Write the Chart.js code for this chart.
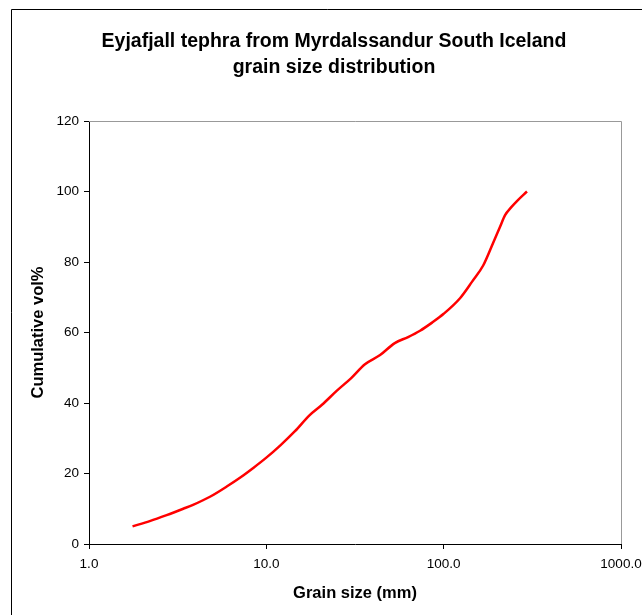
<!DOCTYPE html>
<html>
<head>
<meta charset="utf-8">
<script src="https://cdn.jsdelivr.net/npm/chart.js@4"></script>
<style>
html,body{margin:0;padding:0;background:#fff;}
canvas{display:block;}
</style>
</head>
<body>
<canvas id="c" width="642" height="615"></canvas>
<script>
const grainSize = [1.76, 2.2, 2.74, 3.4, 3.86, 4.81, 5.98, 7.2, 8.4, 10, 12, 14.5, 17.5, 20.6, 25, 30, 36, 43.8, 53, 63, 73.6, 86, 100, 124, 145, 167, 190, 208, 222, 240, 259, 295];
const cumulativeVol = [5, 6.5, 8.2, 10, 11.1, 13.4, 16.3, 19, 21.5, 24.5, 28, 32, 36.5, 39.5, 43.5, 47, 51, 53.6, 57, 58.7, 60.5, 62.8, 65.3, 69.8, 74.5, 79, 85.4, 90, 93.3, 95.5, 97.3, 100];
const xTicks = [1, 10, 100, 1000];
const yTicks = [0, 20, 40, 60, 80, 100, 120];
const titleLines = ["Eyjafjall tephra from Myrdalssandur South Iceland", "grain size distribution"];
const xTitle = "Grain size (mm)";
const yTitle = "Cumulative vol%";

const FONT = "'Liberation Sans', Arial, sans-serif";

const decor = {
  id: 'decor',
  beforeDraw(chart) {
    const ctx = chart.ctx;
    ctx.save();
    ctx.fillStyle = '#fff';
    ctx.fillRect(0, 0, chart.width, chart.height);
    ctx.restore();
  },
  afterDraw(chart) {
    const ctx = chart.ctx;
    const a = chart.chartArea;
    ctx.save();
    // outer frame
    ctx.strokeStyle = '#000';
    ctx.lineWidth = 1;
    ctx.beginPath();
    ctx.moveTo(11.5, 700);
    ctx.lineTo(11.5, 9.5);
    ctx.lineTo(700, 9.5);
    ctx.stroke();
    // plot area top/right border
    ctx.strokeStyle = '#999';
    ctx.beginPath();
    ctx.moveTo(a.left, a.top + 0.5);
    ctx.lineTo(a.right + 0.5, a.top + 0.5);
    ctx.lineTo(a.right + 0.5, a.bottom);
    ctx.stroke();
    // titles
    ctx.fillStyle = '#000';
    ctx.textAlign = 'center';
    ctx.textBaseline = 'middle';
    ctx.font = 'bold 19.5px ' + FONT;
    ctx.fillText(titleLines[0], 334, 42);
    ctx.fillText(titleLines[1], 334, 68);
    ctx.font = 'bold 16.5px ' + FONT;
    ctx.fillText(xTitle, 355, 593);
    ctx.translate(38, (a.top + a.bottom) / 2);
    ctx.rotate(-Math.PI / 2);
    ctx.fillText(yTitle, 0, 0);
    ctx.restore();
  }
};

new Chart(document.getElementById('c'), {
  type: 'line',
  data: {
    datasets: [{
      data: grainSize.map((x, i) => ({x: x, y: cumulativeVol[i]})),
      borderColor: '#ff0000',
      borderWidth: 2.5,
      pointRadius: 0,
      fill: false,
      cubicInterpolationMode: 'monotone'
    }]
  },
  options: {
    responsive: false,
    animation: false,
    devicePixelRatio: 1,
    layout: { padding: { left: 0, top: 121, right: 21, bottom: 0 } },
    plugins: { legend: { display: false }, title: { display: false }, tooltip: { enabled: false } },
    scales: {
      x: {
        type: 'logarithmic',
        min: 1, max: 1000,
        afterBuildTicks: s => { s.ticks = xTicks.map(v => ({value: v})); },
        afterFit: s => { s.height = 71; s.paddingRight = 0; s.paddingLeft = 0; },
        ticks: {
          color: '#000',
          font: { family: FONT, size: 13.5 },
          padding: 7,
          maxRotation: 0,
          autoSkip: false,
          callback: v => Number(v).toFixed(1)
        },
        grid: { drawOnChartArea: false, drawTicks: true, tickLength: 5, color: '#000' },
        border: { color: '#000', width: 1 }
      },
      y: {
        min: 0, max: 120,
        afterBuildTicks: s => { s.ticks = yTicks.map(v => ({value: v})); },
        afterFit: s => { s.width = 89; s.paddingTop = 0; s.paddingBottom = 0; },
        ticks: {
          color: '#000',
          font: { family: FONT, size: 13.5 },
          padding: 5
        },
        grid: { drawOnChartArea: false, drawTicks: true, tickLength: 5, color: '#000' },
        border: { color: '#000', width: 1 }
      }
    }
  },
  plugins: [decor]
});
</script>
</body>
</html>
